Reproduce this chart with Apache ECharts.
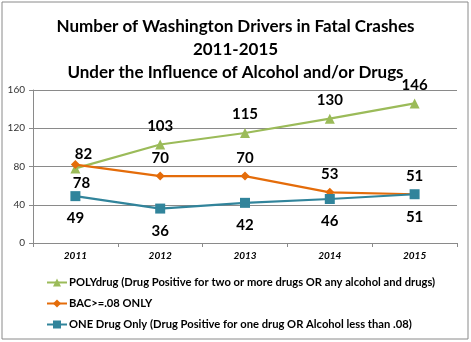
<!DOCTYPE html>
<html><head><meta charset="utf-8">
<script src="https://cdn.jsdelivr.net/npm/echarts@6/dist/echarts.min.js"></script>
<style>html,body{margin:0;padding:0;background:#fff}#c{width:471px;height:342px}</style>
</head><body><div id="c"></div>
<script>
const categories = ['2011','2012','2013','2014','2015'];
const polyValues = [78,103,115,130,146];
const bacValues = [82,70,70,53,51];
const oneValues = [49,36,42,46,51];
const yTicks = [0,40,80,120,160];
const seriesNames = [
  'POLYdrug (Drug Positive for two or more drugs OR any alcohol and drugs)',
  'BAC>=.08 ONLY',
  'ONE Drug Only (Drug Positive for one drug OR Alcohol less than .08)'
];
const font = 'Lato, "Open Sans", sans-serif';
const chart = echarts.init(document.getElementById('c'));
const lbl = {show:true, color:'#000', fontWeight:'bold', fontSize:15, fontFamily:font, distance:6};
chart.setOption({
  animation:false,
  graphic:[{type:'rect', shape:{x:2,y:2,width:466,height:337}, style:{fill:'none', stroke:'#8a8a8a', lineWidth:1}}],
  title:{text:'Number of Washington Drivers in Fatal Crashes\n2011-2015\nUnder the Influence of Alcohol and/or Drugs',
    left:'center', top:10, textStyle:{fontFamily:font, fontSize:17, fontWeight:'bold', color:'#000', lineHeight:23}},
  grid:{left:33, right:14, top:90, bottom:99},
  xAxis:{type:'category', data:categories, boundaryGap:true,
    axisLine:{lineStyle:{color:'#8a8a8a'}}, axisTick:{show:true, length:4, lineStyle:{color:'#8a8a8a'}},
    axisLabel:{fontStyle:'italic', fontWeight:'bold', fontSize:10, color:'#000', fontFamily:font, margin:8}},
  yAxis:{type:'value', min:yTicks[0], max:yTicks[yTicks.length-1], interval:40,
    axisLine:{show:true, lineStyle:{color:'#8a8a8a'}}, axisTick:{show:true, length:4, lineStyle:{color:'#8a8a8a'}},
    splitLine:{lineStyle:{color:'#8a8a8a'}},
    axisLabel:{fontSize:10, color:'#333', fontFamily:font, margin:8}},
  legend:{orient:'vertical', left:41, top:272, itemGap:10, itemWidth:20, itemHeight:10,
    textStyle:{fontFamily:font, fontSize:11.2, fontWeight:'bold', color:'#000', padding:[0,0,0,-3]}, data:seriesNames},
  series:[
    {name:seriesNames[0], type:'line', symbol:'triangle', symbolSize:10, color:'#9bbb59', lineStyle:{width:2.2},
      data:polyValues.map((v,i)=> i===0 ? {value:v, label:{position:'bottom', offset:[6,-4]}} : v),
      label:Object.assign({position:'top'}, lbl)},
    {name:seriesNames[1], type:'line', symbol:'diamond', symbolSize:9, color:'#e46c0a', lineStyle:{width:2.2},
      data:bacValues.map((v,i)=> i===0 ? {value:v, label:{offset:[8,8]}} : v),
      label:Object.assign({position:'top'}, lbl)},
    {name:seriesNames[2], type:'line', symbol:'rect', symbolSize:10, color:'#31849b', lineStyle:{width:2.2},
      data:oneValues, label:Object.assign({position:'bottom'}, lbl, {distance:10})}
  ]
});
</script></body></html>
